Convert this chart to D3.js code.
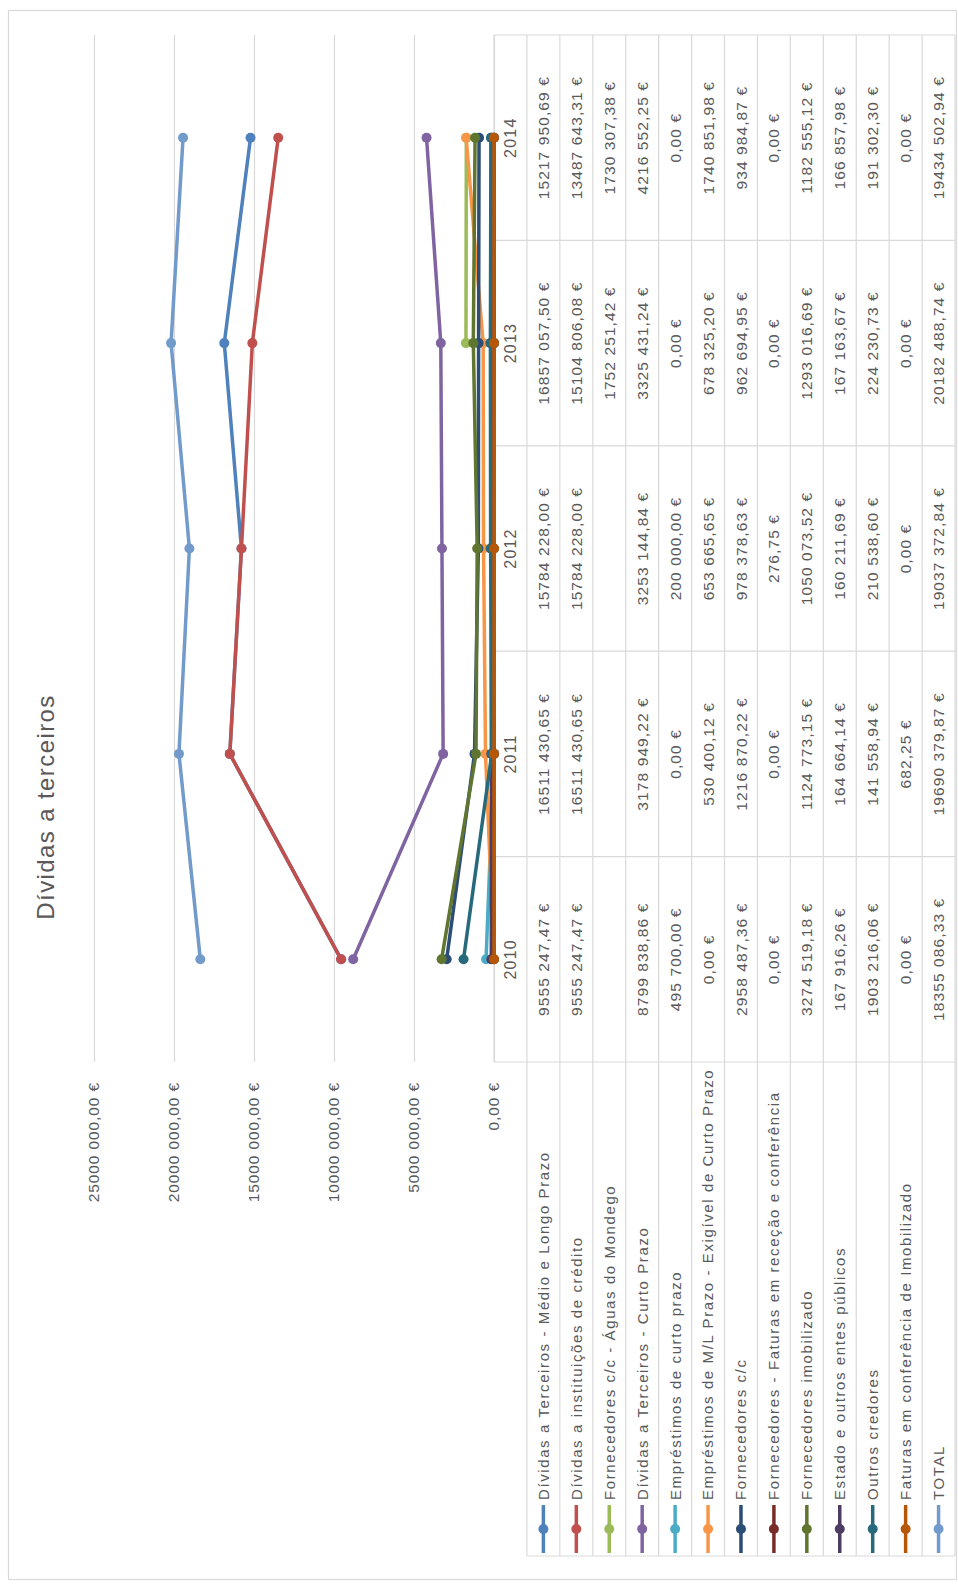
<!DOCTYPE html>
<html>
<head>
<meta charset="utf-8">
<script src="https://cdn.jsdelivr.net/npm/d3@7"></script>
<style>
  html, body { margin: 0; padding: 0; background: #fff; }
  svg { display: block; }
  text { font-family: "Liberation Sans", Arial, sans-serif; fill: #595959; }
</style>
</head>
<body>
<svg id="chart" width="958" height="1588"></svg>
<script>
// ---- data ----
const years = ["2010", "2011", "2012", "2013", "2014"];

const seriesNames = [
  "Dívidas a Terceiros - Médio e Longo Prazo",
  "Dívidas a instituições de crédito",
  "Fornecedores c/c - Águas do Mondego",
  "Dívidas a Terceiros - Curto Prazo",
  "Empréstimos de curto prazo",
  "Empréstimos de M/L Prazo - Exigível de Curto Prazo",
  "Fornecedores c/c",
  "Fornecedores - Faturas em receção e conferência",
  "Fornecedores imobilizado",
  "Estado e outros entes públicos",
  "Outros credores",
  "Faturas em conferência de Imobilizado",
  "TOTAL"
];

const dividasMLP        = [9555247.47, 16511430.65, 15784228.00, 16857057.50, 15217950.69];
const instCredito       = [9555247.47, 16511430.65, 15784228.00, 15104806.08, 13487643.31];
const aguasMondego      = [null, null, null, 1752251.42, 1730307.38];
const dividasCP         = [8799838.86, 3178949.22, 3253144.84, 3325431.24, 4216552.25];
const emprestimosCP     = [495700.00, 0, 200000.00, 0, 0];
const emprestimosMLExig = [0, 530400.12, 653665.65, 678325.20, 1740851.98];
const fornecedoresCC    = [2958487.36, 1216870.22, 978378.63, 962694.95, 934984.87];
const faturasRececao    = [0, 0, 276.75, 0, 0];
const fornImobilizado   = [3274519.18, 1124773.15, 1050073.52, 1293016.69, 1182555.12];
const estadoEntes       = [167916.26, 164664.14, 160211.69, 167163.67, 166857.98];
const outrosCredores    = [1903216.06, 141558.94, 210538.60, 224230.73, 191302.30];
const faturasImob       = [0, 682.25, 0, 0, 0];
const total             = [18355086.33, 19690379.87, 19037372.84, 20182488.74, 19434502.94];

const valueTicks = [0, 5000000, 10000000, 15000000, 20000000, 25000000];

const seriesColors = [
  "#4F81BD", "#C0504D", "#9BBB59", "#8064A2", "#4BACC6", "#F79646",
  "#2C4D75", "#772C2A", "#5F7530", "#4D3B62", "#276A7C", "#B65708", "#729ACA"
];

const seriesValues = [
  dividasMLP, instCredito, aguasMondego, dividasCP, emprestimosCP, emprestimosMLExig,
  fornecedoresCC, faturasRececao, fornImobilizado, estadoEntes, outrosCredores, faturasImob, total
];

const series = seriesNames.map((name, i) => ({
  name,
  color: seriesColors[i],
  points: years.map((yr, j) => ({ year: yr, v: seriesValues[i][j] }))
}));

// ---- helpers ----
// Portuguese currency style: "15217 950,69 €"
function eur(v) {
  if (v == null) return "";
  let [ip, dp] = v.toFixed(2).split(".");
  if (ip.length > 3) ip = ip.slice(0, -3) + " " + ip.slice(-3);
  return ip + "," + dp + " €";
}

// ---- layout (chart is laid out landscape, then turned to portrait) ----
const W = 1588;            // landscape width
const plotL = 526, plotR = 1553;
const valTop = 94, valZero = 494;
const legendL = 32;
const rowH = 32.93;
const nRows = series.length + 1;
const tableBottom = valZero + nRows * rowH;
const gridColor = "#D9D9D9";

const svg = d3.select("#chart");
svg.append("rect")
  .attr("x", 8.5).attr("y", 10.5).attr("width", 948).attr("height", 1569)
  .attr("fill", "#fff").attr("stroke", gridColor).attr("stroke-width", 1.2);

const g = svg.append("g").attr("transform", `translate(0,${W}) rotate(-90)`);

const x = d3.scalePoint().domain(years).range([plotL, plotR]).padding(0.5);
const bw = x.step();
const y = d3.scaleLinear().domain([0, 25000000]).range([valZero, valTop]);

// title
g.append("text")
  .attr("x", 781).attr("y", 54)
  .attr("text-anchor", "middle")
  .style("font-size", "24px")
  .style("letter-spacing", "1.4px")
  .text("Dívidas a terceiros");

// value axis with gridlines
const axis = g.append("g")
  .attr("transform", `translate(${plotL},0)`)
  .call(d3.axisLeft(y)
    .tickValues(valueTicks)
    .tickSize(-(plotR - plotL))
    .tickPadding(20)
    .tickFormat(eur));
axis.select(".domain").remove();
axis.selectAll(".tick line").attr("stroke", gridColor).attr("stroke-width", 1.2);
axis.selectAll(".tick text")
  .attr("fill", "#595959")
  .style("font-family", "\"Liberation Sans\", Arial, sans-serif")
  .style("font-size", "15.5px")
  .style("letter-spacing", "0.9px");

// data table grid
const tbl = g.append("g").attr("stroke", gridColor).attr("stroke-width", 1.2);
for (let i = 0; i <= nRows; i++) {
  const vy = valZero + i * rowH;
  tbl.append("line")
    .attr("x1", i === 0 ? plotL : legendL).attr("x2", plotR)
    .attr("y1", vy).attr("y2", vy);
}
tbl.append("line")
  .attr("x1", legendL).attr("x2", legendL)
  .attr("y1", valZero + rowH).attr("y2", tableBottom);
for (let k = 0; k <= years.length; k++) {
  const ux = plotL + k * bw;
  tbl.append("line")
    .attr("x1", ux).attr("x2", ux)
    .attr("y1", valZero).attr("y2", tableBottom);
}

// header row: years
g.append("g").selectAll("text").data(years).join("text")
  .attr("x", d => x(d)).attr("y", valZero + rowH / 2)
  .attr("dy", "0.36em")
  .attr("text-anchor", "middle")
  .style("font-size", "16px")
  .style("letter-spacing", "1.2px")
  .text(d => d);

// table rows: legend key + values
const rows = g.append("g").selectAll("g").data(series).join("g")
  .attr("transform", (d, i) => `translate(0,${valZero + (i + 1.5) * rowH})`);

rows.append("line")
  .attr("x1", 35).attr("x2", 83)
  .attr("stroke", d => d.color).attr("stroke-width", 3.5);
rows.append("circle")
  .attr("cx", 59).attr("r", 5)
  .attr("fill", d => d.color);
rows.append("text")
  .attr("x", 88).attr("dy", "0.36em")
  .style("font-size", "15px")
  .style("letter-spacing", "1.6px")
  .text(d => d.name);
rows.selectAll("text.val").data(d => d.points).join("text")
  .attr("class", "val")
  .attr("x", p => x(p.year)).attr("dy", "0.36em")
  .attr("text-anchor", "middle")
  .style("font-size", "15.5px")
  .style("letter-spacing", "1.1px")
  .text(p => eur(p.v));

// lines and markers
const line = d3.line()
  .defined(p => p.v != null)
  .x(p => x(p.year))
  .y(p => y(p.v));

const sg = g.append("g").selectAll("g").data(series).join("g");
sg.append("path")
  .attr("d", d => line(d.points))
  .attr("fill", "none")
  .attr("stroke", d => d.color)
  .attr("stroke-width", 3.5)
  .attr("stroke-linejoin", "round")
  .attr("stroke-linecap", "round");
sg.selectAll("circle").data(d => d.points.filter(p => p.v != null).map(p => ({ ...p, color: d.color })))
  .join("circle")
  .attr("cx", p => x(p.year))
  .attr("cy", p => y(p.v))
  .attr("r", 5)
  .attr("fill", p => p.color);
</script>
</body>
</html>
